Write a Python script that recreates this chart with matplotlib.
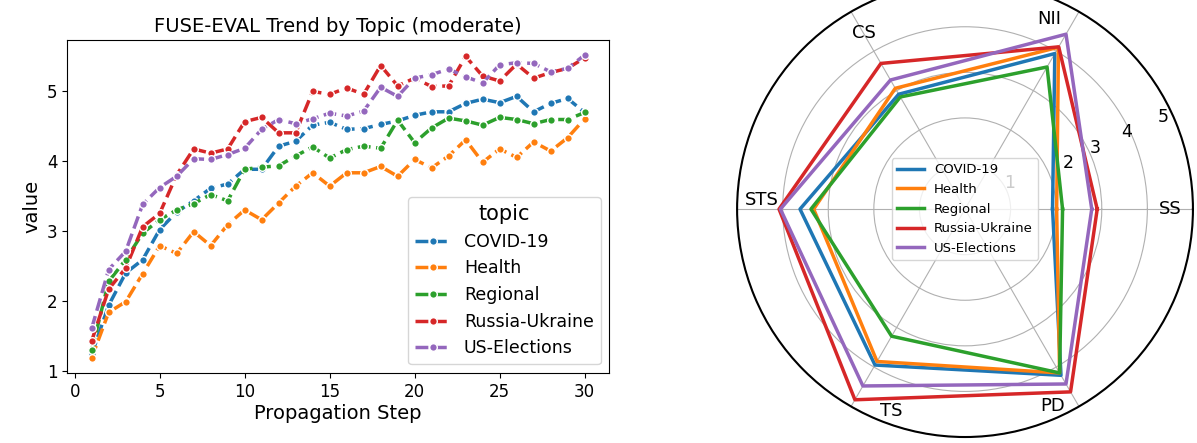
import numpy as np
import matplotlib
matplotlib.use('Agg')
import matplotlib.pyplot as plt

topics = ["COVID-19", "Health", "Regional", "Russia-Ukraine", "US-Elections"]
colors = ["#1f77b4", "#ff7f0e", "#2ca02c", "#d62728", "#9467bd"]
steps = list(range(1, 31))

covid = [1.24, 1.94, 2.40, 2.59, 3.02, 3.27, 3.43, 3.61, 3.67, 3.88,
         3.88, 4.21, 4.28, 4.51, 4.55, 4.45, 4.46, 4.52, 4.57, 4.65,
         4.70, 4.70, 4.82, 4.88, 4.83, 4.92, 4.70, 4.82, 4.89, 4.69]
health = [1.19, 1.84, 1.99, 2.39, 2.79, 2.68, 2.99, 2.79, 3.09, 3.30,
          3.16, 3.40, 3.64, 3.83, 3.64, 3.83, 3.83, 3.92, 3.78, 4.02,
          3.90, 4.07, 4.30, 3.98, 4.17, 4.05, 4.27, 4.14, 4.33, 4.60]
regional = [1.30, 2.28, 2.59, 2.97, 3.16, 3.30, 3.39, 3.52, 3.43, 3.88,
            3.91, 3.93, 4.07, 4.20, 4.04, 4.16, 4.21, 4.18, 4.58, 4.26,
            4.47, 4.61, 4.57, 4.51, 4.62, 4.59, 4.53, 4.59, 4.59, 4.69]
russia = [1.43, 2.17, 2.47, 3.06, 3.25, 3.80, 4.17, 4.11, 4.17, 4.56,
          4.62, 4.40, 4.40, 4.99, 4.95, 5.04, 4.95, 5.36, 5.07, 5.18,
          5.06, 5.07, 5.49, 5.21, 5.14, 5.38, 5.18, 5.26, 5.32, 5.47]
us = [1.61, 2.45, 2.71, 3.38, 3.62, 3.78, 4.03, 4.02, 4.09, 4.18,
      4.45, 4.59, 4.53, 4.60, 4.68, 4.64, 4.71, 5.05, 4.92, 5.18,
      5.23, 5.31, 5.20, 5.11, 5.37, 5.40, 5.39, 5.27, 5.32, 5.51]
trend = [covid, health, regional, russia, us]

# radar: metric order counter-clockwise from 0 deg
metrics = ["SS", "NII", "CS", "STS", "TS", "PD"]
radar_covid = [1.92, 3.94, 2.91, 3.62, 3.95, 4.21]
radar_health = [2.01, 4.10, 3.06, 3.32, 3.86, 4.15]
radar_regional = [2.14, 3.60, 2.84, 3.38, 3.22, 4.15]
radar_russia = [2.90, 4.11, 3.69, 4.08, 4.83, 4.63]
radar_us = [2.78, 4.43, 3.27, 4.05, 4.48, 4.43]
radar = [radar_covid, radar_health, radar_regional, radar_russia, radar_us]
rticks = [1, 2, 3, 4, 5]

# where the category / ring labels sit (deg, radius) - layout only
metric_label_pos = [(0, 4.50), (66, 4.56), (120, 4.45), (177.5, 4.46), (250, 4.72), (294, 4.72)]
rtick_label_pos = [(30, 1.14), (24, 2.47), (25, 3.15), (25.4, 3.93), (25, 4.79)]

plt.rcParams['font.family'] = ['DejaVu Sans']

fig = plt.figure(figsize=(11.97, 4.43), dpi=100)

# ---- left: trend lines
ax = fig.add_axes([0.056, 0.158, 0.453, 0.752])
for name, vals, c in zip(topics, trend, colors):
    ax.plot(steps, vals, linestyle='--', marker='o', color=c, lw=2.5,
            ms=5.5, mec='white', mew=1, label=name)
ax.set_title("FUSE-EVAL Trend by Topic (moderate)", fontsize=14)
ax.set_xlabel("Propagation Step", fontsize=14, labelpad=2)
ax.set_ylabel("value", fontsize=14)
ax.set_xticks([0, 5, 10, 15, 20, 25, 30])
ax.set_yticks([1, 2, 3, 4, 5])
ax.tick_params(labelsize=12)
ax.legend(title="topic", loc='lower right', fontsize=12.5, title_fontsize=15)

# ---- right: radar
angles = np.linspace(0, 2 * np.pi, len(metrics), endpoint=False)
pax = fig.add_axes([0.6157, 0.0135, 0.381, 1.029], projection='polar')
for name, vals, c in zip(topics, radar, colors):
    a = np.concatenate([angles, angles[:1]])
    v = np.concatenate([vals, vals[:1]])
    pax.plot(a, v, color=c, lw=2.5, label=name)
pax.set_ylim(0, 5)
pax.set_yticks(rticks)
pax.set_yticklabels([])
pax.set_xticks(angles)
pax.set_xticklabels([])
pax.tick_params(axis='both', length=0)
for lab, (deg, r) in zip(metrics, metric_label_pos):
    pax.text(np.deg2rad(deg), r, lab, fontsize=13, ha='center', va='center')
for t, (deg, r) in zip(rticks, rtick_label_pos):
    pax.text(np.deg2rad(deg), r, str(t), fontsize=12.5, ha='center', va='center')
pax.spines['polar'].set_linewidth(1.5)
pax.legend(loc='center', fontsize=9.5)

plt.savefig("out.png", dpi=100)
